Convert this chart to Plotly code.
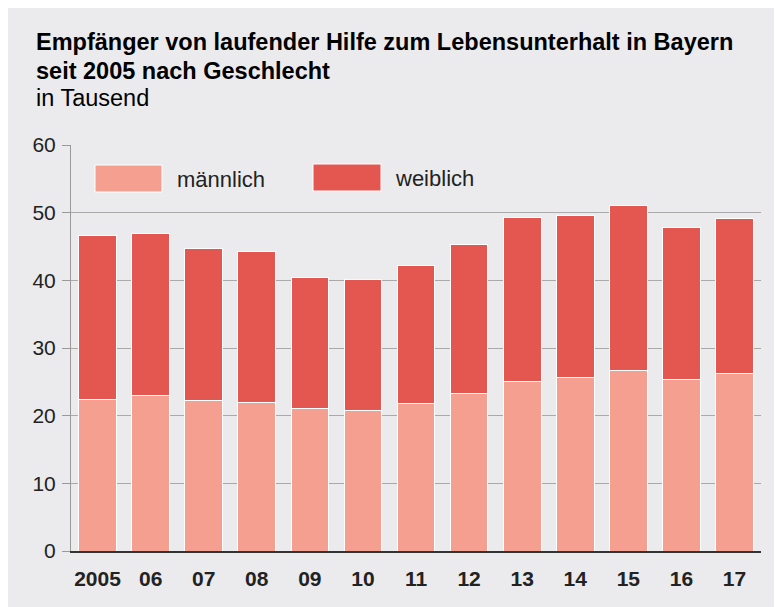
import plotly.graph_objects as go

# data (in thousand)
jahre = ["2005", "06", "07", "08", "09", "10", "11", "12", "13", "14", "15", "16", "17"]
maennlich = [22.4, 23.0, 22.2, 22.0, 21.0, 20.8, 21.8, 23.3, 25.1, 25.7, 26.7, 25.4, 26.2]
weiblich = [24.3, 23.9, 22.5, 22.2, 19.4, 19.3, 20.4, 22.0, 24.2, 23.9, 24.3, 22.4, 22.9]

W, H = 782, 607
OFF = 8  # page body margin
L, T = 63, 137
PW, PH = 690, 406
R, B = W - L - PW, H - T - PH

FONT = "Liberation Sans, Arial, Helvetica, sans-serif"
BG = "#ebebed"
C_M = "#f59f90"
C_W = "#e45650"


# page pixel -> paper coords
def px(x):
    return (x - OFF - L) / PW


def py(y):
    return (T + PH - (y - OFF)) / PH


fig = go.Figure()
fig.add_trace(go.Bar(x=jahre, y=maennlich, name="männlich", marker=dict(color=C_M, line=dict(color="white", width=1))))
fig.add_trace(go.Bar(x=jahre, y=weiblich, name="weiblich", marker=dict(color=C_W, line=dict(color="white", width=1))))

shapes = [
    # legend swatches
    dict(type="rect", xref="paper", yref="paper", x0=px(95), x1=px(162), y0=py(192), y1=py(165),
         fillcolor=C_M, line=dict(color="white", width=1)),
    dict(type="rect", xref="paper", yref="paper", x0=px(313), x1=px(381), y0=py(191), y1=py(164),
         fillcolor=C_W, line=dict(color="white", width=1)),
]

annotations = [
    dict(text="<b>Empfänger von laufender Hilfe zum Lebensunterhalt in Bayern</b>", x=px(34), y=py(51),
         font=dict(size=23.5, color="#000")),
    dict(text="<b>seit 2005 nach Geschlecht</b>", x=px(34), y=py(80), font=dict(size=23.5, color="#000")),
    dict(text="in Tausend", x=px(34), y=py(107), font=dict(size=23.5, color="#000")),
]
for a in annotations:
    a.update(xref="paper", yref="paper", xanchor="left", yanchor="bottom", showarrow=False, yshift=-6)

annotations += [
    dict(text="männlich", x=px(175), y=py(179), xref="paper", yref="paper", xanchor="left", yanchor="middle",
         showarrow=False, font=dict(size=22, color="#222")),
    dict(text="weiblich", x=px(393), y=py(178), xref="paper", yref="paper", xanchor="left", yanchor="middle",
         showarrow=False, font=dict(size=22, color="#222")),
]

fig.update_layout(
    width=W, height=H,
    barmode="stack", bargap=0.29,
    showlegend=False,
    paper_bgcolor=BG, plot_bgcolor=BG,
    margin=dict(l=L, r=R, t=T, b=B, pad=0),
    font=dict(family=FONT, color="#222"),
    shapes=shapes, annotations=annotations,
)
fig.update_xaxes(
    showline=True, linecolor="#333", linewidth=2,
    ticks="outside", ticklen=8, tickcolor="rgba(0,0,0,0)",
    tickfont=dict(size=21, color="#222", weight="bold"),
    showgrid=False,
)
fig.update_yaxes(
    range=[0, 60], dtick=10, tick0=0,
    showline=True, linecolor="#999", linewidth=1,
    ticks="outside", ticklen=8, tickcolor="#999", tickwidth=1,
    ticklabelstandoff=2,
    showgrid=True, gridcolor="#aaa", gridwidth=1,
    zeroline=False,
    tickfont=dict(size=21, color="#222"),
)

fig.write_html("out.html")
